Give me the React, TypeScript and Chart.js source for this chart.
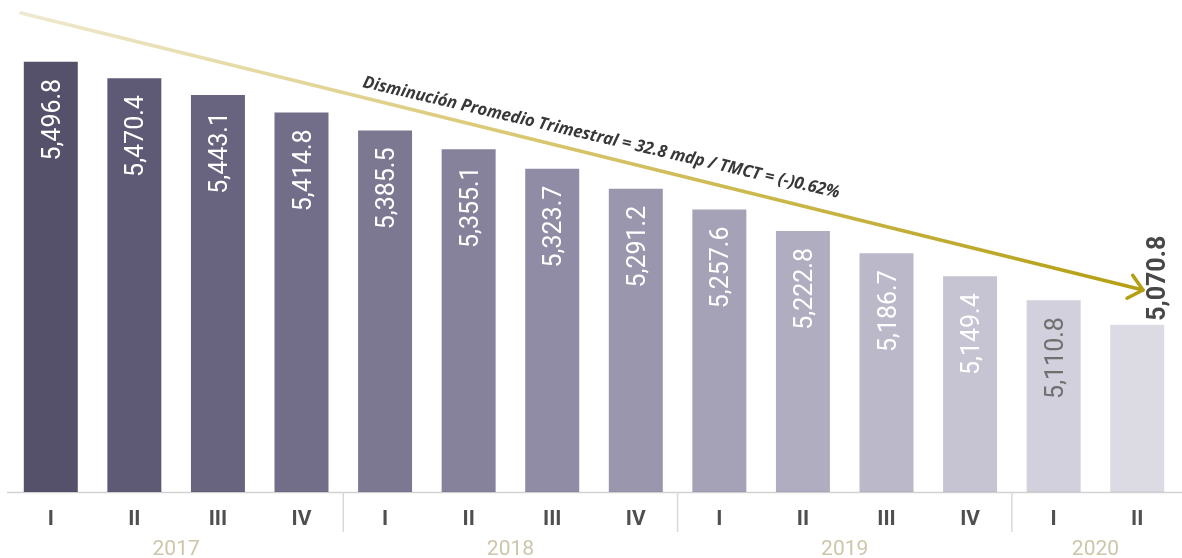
import React, { useEffect, useRef } from "react";
import { Chart, registerables } from "chart.js";

Chart.register(...registerables);

const categories = ["I", "II", "III", "IV", "I", "II", "III", "IV", "I", "II", "III", "IV", "I", "II"];
const years = ["2017", "2018", "2019", "2020"];
const yearSpans = [4, 4, 4, 2];
const values = [5496.8, 5470.4, 5443.1, 5414.8, 5385.5, 5355.1, 5323.7, 5291.2, 5257.6, 5222.8, 5186.7, 5149.4, 5110.8, 5070.8];
const barColors = [
  "#56516b", "#5e5a75", "#68637e", "#726d88", "#7c7892", "#86829b", "#908ca5",
  "#9a96ad", "#a5a1b6", "#b0adc1", "#bbb8ca", "#c6c4d3", "#d2d0dc", "#dcdae3",
];
const labelColors = [
  "#ffffff", "#ffffff", "#ffffff", "#ffffff", "#ffffff", "#ffffff", "#ffffff",
  "#ffffff", "#ffffff", "#ffffff", "#ffffff", "#ffffff", "#707070", "",
];
const annotationText = "Disminución Promedio Trimestral = 32.8 mdp / TMCT = (-)0.62%";

const fmt = (v: number) =>
  v.toLocaleString("en-US", { minimumFractionDigits: 1, maximumFractionDigits: 1 });

const overlayPlugin = {
  id: "overlay",
  afterDatasetsDraw(chart: any) {
    const ctx = chart.ctx as CanvasRenderingContext2D;
    const meta = chart.getDatasetMeta(0);
    const xs = chart.scales.x;
    const area = chart.chartArea;
    const bars = meta.data;

    // value labels
    bars.forEach((bar: any, i: number) => {
      const cx = bar.x;
      const top = bar.y;
      ctx.save();
      if (i === bars.length - 1) {
        ctx.translate(cx + 19, top - 4);
        ctx.rotate(-Math.PI / 2);
        ctx.font = "bold 25px Roboto";
        ctx.fillStyle = "#474747";
        ctx.textAlign = "left";
        ctx.textBaseline = "alphabetic";
        ctx.fillText(fmt(values[i]), 0, 9);
      } else {
        ctx.translate(cx, top + 17);
        ctx.rotate(-Math.PI / 2);
        ctx.font = "25px Roboto";
        ctx.fillStyle = labelColors[i];
        ctx.textAlign = "right";
        ctx.textBaseline = "alphabetic";
        ctx.fillText(fmt(values[i]), 0, 9);
      }
      ctx.restore();
    });

    // axis line
    const base = area.bottom;
    ctx.save();
    ctx.strokeStyle = "rgba(0,0,0,0.18)";
    ctx.lineWidth = 1.5;
    ctx.beginPath();
    ctx.moveTo(7, base + 0.5);
    ctx.lineTo(chart.width, base + 0.5);
    ctx.stroke();

    // quarter labels
    ctx.font = "bold 21px Roboto";
    ctx.fillStyle = "#4f4f4f";
    ctx.textAlign = "center";
    ctx.textBaseline = "alphabetic";
    categories.forEach((c, i) => {
      ctx.fillText(c, xs.getPixelForValue(i), base + 33);
    });

    // year separators and labels
    let start = 0;
    ctx.font = "21px Roboto";
    years.forEach((y, gi) => {
      const end = start + yearSpans[gi] - 1;
      const cx = (xs.getPixelForValue(start) + xs.getPixelForValue(end)) / 2;
      ctx.fillStyle = "#ccc6aa";
      ctx.fillText(y, cx, base + 63);
      if (gi < years.length - 1) {
        const sx = (xs.getPixelForValue(end) + xs.getPixelForValue(end + 1)) / 2;
        ctx.strokeStyle = "#d9d9d9";
        ctx.lineWidth = 1.5;
        ctx.beginPath();
        ctx.moveTo(sx, base);
        ctx.lineTo(sx, base + 40);
        ctx.stroke();
      }
      start = end + 1;
    });
    ctx.restore();

    // trend arrow
    const x0 = 21, y0 = 13, x1 = 1143, y1 = 290;
    ctx.save();
    const grad = ctx.createLinearGradient(x0, y0, x1, y1);
    grad.addColorStop(0, "#efe9d0");
    grad.addColorStop(0.4, "#dccb7a");
    grad.addColorStop(1, "#b49e12");
    ctx.strokeStyle = grad;
    ctx.lineWidth = 3.5;
    ctx.lineCap = "round";
    ctx.lineJoin = "round";
    ctx.beginPath();
    ctx.moveTo(x0, y0);
    ctx.lineTo(x1, y1);
    ctx.stroke();
    const ang = Math.atan2(y1 - y0, x1 - x0);
    const headLen = 18;
    const spread = 0.72;
    ctx.strokeStyle = "#b49e12";
    ctx.beginPath();
    ctx.moveTo(x1 - headLen * Math.cos(ang - spread), y1 - headLen * Math.sin(ang - spread));
    ctx.lineTo(x1, y1);
    ctx.lineTo(x1 - headLen * Math.cos(ang + spread), y1 - headLen * Math.sin(ang + spread));
    ctx.stroke();
    ctx.restore();

    // annotation text
    ctx.save();
    ctx.translate(362, 87);
    ctx.rotate(Math.atan2(111, 476));
    ctx.font = "italic bold 17px 'Open Sans'";
    const w = ctx.measureText(annotationText).width;
    ctx.scale(489 / w, 1);
    ctx.fillStyle = "#383838";
    ctx.textAlign = "left";
    ctx.textBaseline = "alphabetic";
    ctx.fillText(annotationText, 0, 0);
    ctx.restore();
  },
};

export default function App() {
  const ref = useRef<HTMLCanvasElement | null>(null);
  useEffect(() => {
    if (!ref.current) return;
    const chart = new Chart(ref.current, {
      type: "bar",
      data: {
        labels: categories,
        datasets: [
          {
            data: values,
            backgroundColor: barColors,
            borderWidth: 0,
            barPercentage: 0.646,
            categoryPercentage: 1,
          },
        ],
      },
      options: {
        responsive: false,
        animation: false,
        layout: { padding: { left: 9, right: 3, top: 0, bottom: 66 } },
        plugins: { legend: { display: false }, tooltip: { enabled: false } },
        scales: {
          x: { display: false },
          y: { display: false, min: 4800, max: 5597 },
        },
      },
      plugins: [overlayPlugin],
    });
    return () => chart.destroy();
  }, []);
  return (
    <canvas
      ref={ref}
      width={1182}
      height={558}
      style={{ position: "fixed", left: 0, top: 0, display: "block", background: "#ffffff" }}
    />
  );
}
